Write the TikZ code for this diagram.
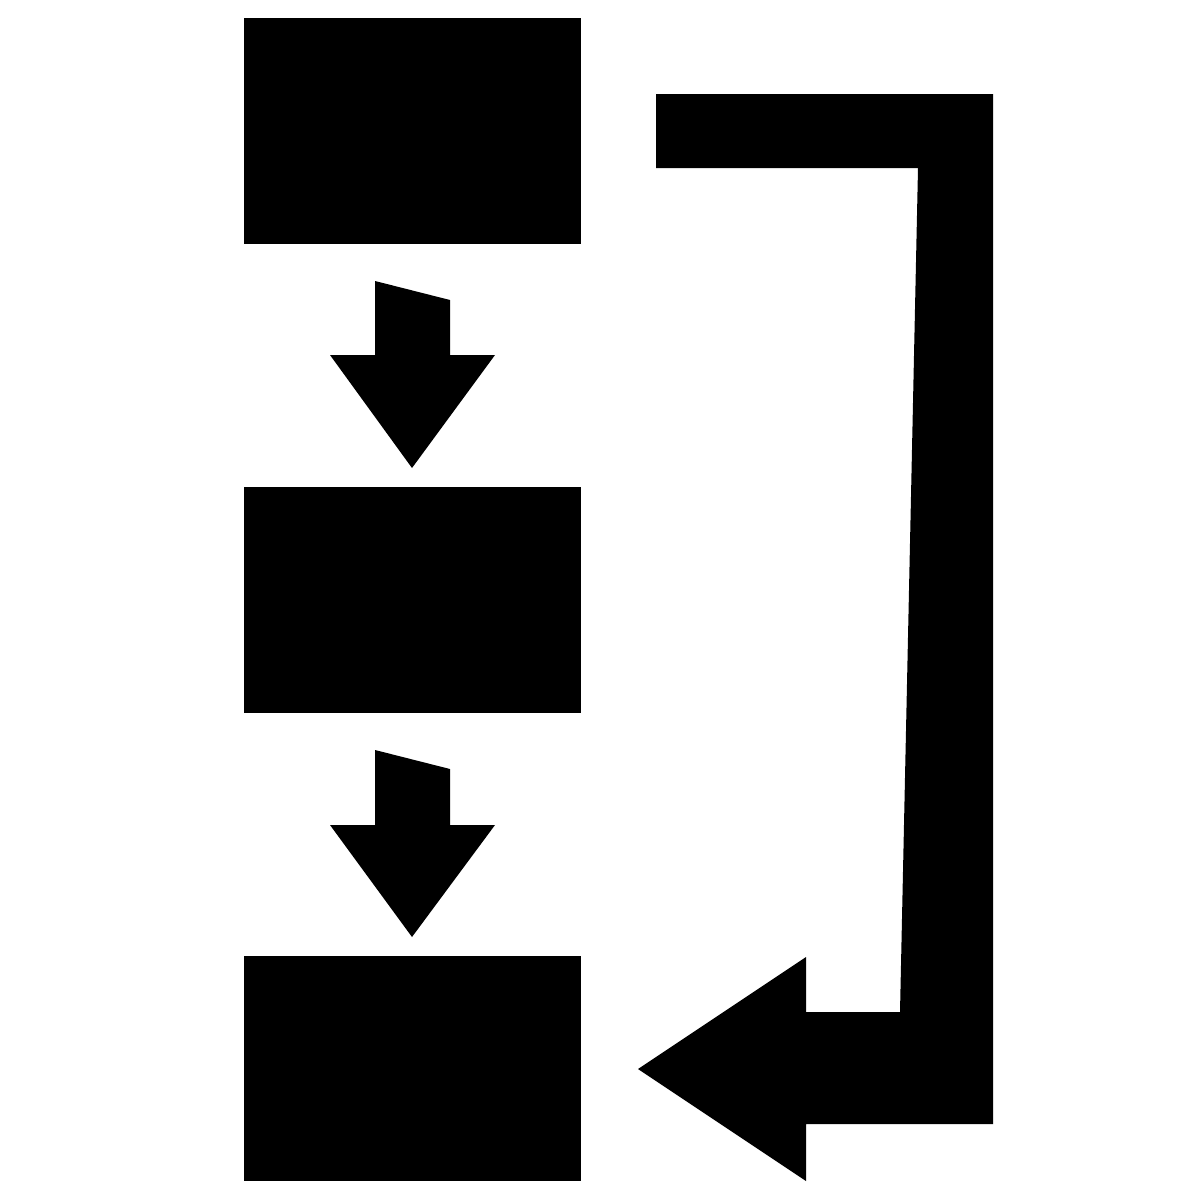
\documentclass[tikz,border=0pt]{standalone}
\usepackage{tikz}

\tikzset{
  block/.style={fill=black,minimum width=3.37cm,minimum height=2.25cm,inner sep=0pt,outer sep=0pt},
  arrowfill/.style={fill=black}
}

\begin{document}
\begin{tikzpicture}[x=0.01cm,y=-0.01cm]
  \useasboundingbox (0,0) rectangle (1200,1200);
  % three blocks
  \node[block] (top) at (412.5,131) {};
  \node[block] (mid) at (412.5,600) {};
  \node[block] (bot) at (412.5,1068.5) {};
  % down arrows
  \fill[arrowfill] (375,281) -- (450,300) -- (450,355) -- (495,355) -- (412,468)
    -- (330,355) -- (375,355) -- cycle;
  \fill[arrowfill] (375,750) -- (450,769) -- (450,825) -- (495,825) -- (412,937)
    -- (330,825) -- (375,825) -- cycle;
  % return arrow
  \fill[arrowfill] (656,94) -- (993,94) -- (993,1124) -- (806,1124) -- (806,1181)
    -- (638,1069) -- (806,957) -- (806,1012) -- (900,1012) -- (918,168)
    -- (656,168) -- cycle;
\end{tikzpicture}
\end{document}
